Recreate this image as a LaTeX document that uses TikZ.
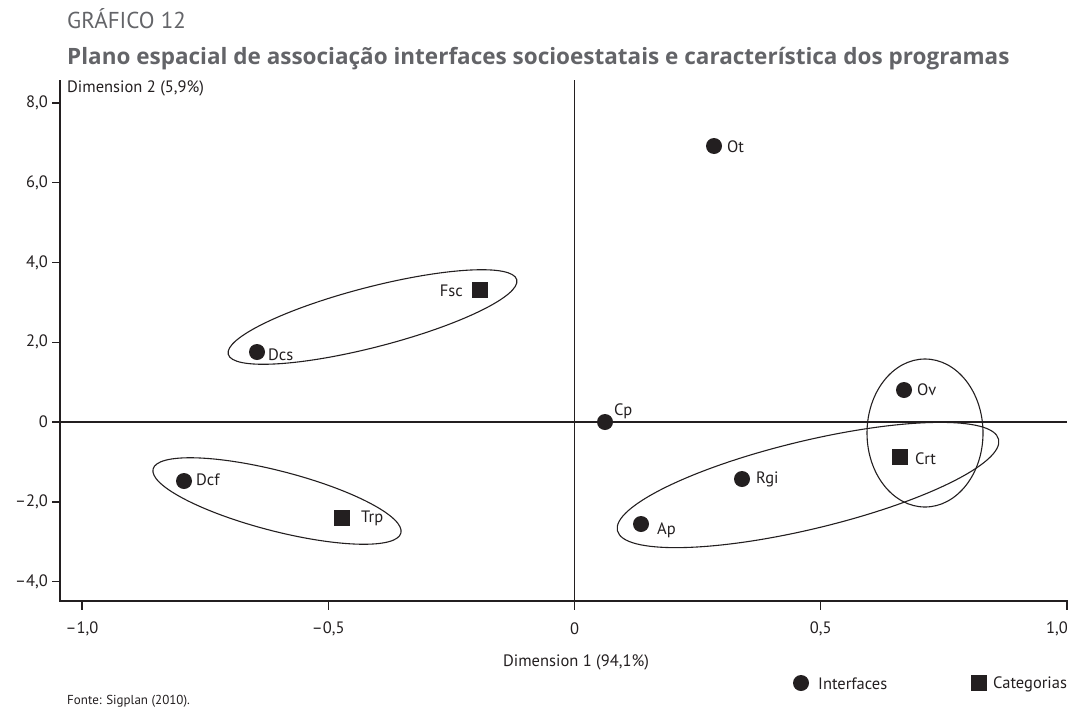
\documentclass[tikz,border=0pt]{standalone}
\usepackage{fontspec}
\setmainfont{PT Sans}
\newfontfamily\titlefont{Open Sans}
\definecolor{ink}{RGB}{35,31,32}
\definecolor{titlegray}{RGB}{99,100,104}
\begin{document}
\begin{tikzpicture}[x=1pt,y=-1pt,
  lbl/.style={font=\fontsize{16.5}{19}\selectfont, text=ink, inner sep=0pt},
  small/.style={font=\fontsize{13}{15}\selectfont, text=ink, inner sep=0pt},
  dot/.style={circle, fill=ink, minimum size=16pt, inner sep=0pt},
  sq/.style={rectangle, fill=ink, minimum size=16pt, inner sep=0pt},
  ax/.style={draw=ink, line width=1.4pt},
  ring/.style={draw=ink, line width=1.1pt}]
\useasboundingbox (0,0) rectangle (1070,707);
% titles
\node[anchor=west, inner sep=0pt, text=titlegray, font=\fontsize{23}{26}\selectfont] (gnum) at (67,19) {GRÁFICO 12};
\node[anchor=west, inner sep=0pt, text=titlegray, font=\titlefont\fontsize{22.5}{26}\bfseries\selectfont] (title) at (67,59) {Plano espacial de associação interfaces socioestatais e característica dos programas};
% axes
\coordinate (ytop) at (60,80);
\coordinate (origin) at (60,601);
\coordinate (xend) at (1067,601);
\coordinate (xendt) at (1067,610);
\draw[ax] (ytop) -- (origin) -- (xend) -- (xendt);
\coordinate (h0) at (60,422);
\coordinate (h1) at (1067,422);
\draw[ax] (h0) -- (h1);
\coordinate (v0) at (574.5,80);
\coordinate (v1) at (574.5,601);
\draw[ax] (v0) -- (v1);
% y ticks
\foreach \v/\t in {8/8{,}0,6/6{,}0,4/4{,}0,2/2{,}0,0/0,-2/\textendash2{,}0,-4/\textendash4{,}0}{
  \coordinate (ya\v) at (52,{422-39.9*\v});
  \coordinate (yb\v) at (60,{422-39.9*\v});
  \draw[ax] (ya\v) -- (yb\v);
  \node[lbl, anchor=east] (yl\v) at (48,{422-39.9*\v}) {\t};
}
% x ticks
\foreach \n/\v/\t in {a/-1/\textendash1{,}0,b/-0.5/\textendash0{,}5,c/0/0,d/0.5/0{,}5}{
  \coordinate (xa\n) at ({574.5+492.5*\v},601);
  \coordinate (xb\n) at ({574.5+492.5*\v},610);
  \draw[ax] (xa\n) -- (xb\n);
  \node[lbl] (xl\n) at ({574.5+492.5*\v},629) {\t};
}
\node[lbl] (xle) at (1057,629) {1,0};
% axis titles
\node[lbl, anchor=west] (dim2) at (67,88) {Dimension 2 (5,9\%)};
\node[lbl] (dim1) at (576,662) {Dimension 1 (94,1\%)};
% ellipses
\draw[ring, rotate around={14.5:(372.5,317)}] (372.5,317) ellipse [x radius=149pt, y radius=30pt];
\draw[ring, rotate around={-14.5:(277,501)}] (277,501) ellipse [x radius=128pt, y radius=30pt];
\draw[ring, rotate around={13.5:(808,485)}] (808,485) ellipse [x radius=196pt, y radius=44pt];
\draw[ring] (925,433) ellipse [x radius=58pt, y radius=74pt];
% points
\node[dot] (ot) at (714,146) {};
\node[lbl, anchor=west] (otl) at (727,147) {Ot};
\node[sq] (fsc) at (480,290) {};
\node[lbl, anchor=east] (fscl) at (463,291) {Fsc};
\node[dot] (dcs) at (257,352) {};
\node[lbl, anchor=west] (dcsl) at (268,355) {Dcs};
\node[dot] (cp) at (605,422) {};
\node[lbl, anchor=west] (cpl) at (614,411) {Cp};
\node[dot] (ov) at (904,390) {};
\node[lbl, anchor=west] (ovl) at (917,390) {Ov};
\node[sq] (crt) at (900,457) {};
\node[lbl, anchor=west] (crtl) at (915,459) {Crt};
\node[dot] (rgi) at (742,479) {};
\node[lbl, anchor=west] (rgil) at (756,479) {Rgi};
\node[dot] (ap) at (641,524) {};
\node[lbl, anchor=west] (apl) at (657,530) {Ap};
\node[dot] (dcf) at (184,481) {};
\node[lbl, anchor=west] (dcfl) at (196,480) {Dcf};
\node[sq] (trp) at (342,518) {};
\node[lbl, anchor=west] (trpl) at (361,518) {Trp};
% legend
\node[dot] (legd) at (801,683) {};
\node[lbl, anchor=west] (legdl) at (818,684) {Interfaces};
\node[sq] (legs) at (979,683) {};
\node[lbl, anchor=west] (legsl) at (993,684) {Categorias};
% source
\node[small, anchor=west] (src) at (67,701) {Fonte: Sigplan (2010).};
\end{tikzpicture}
\end{document}
